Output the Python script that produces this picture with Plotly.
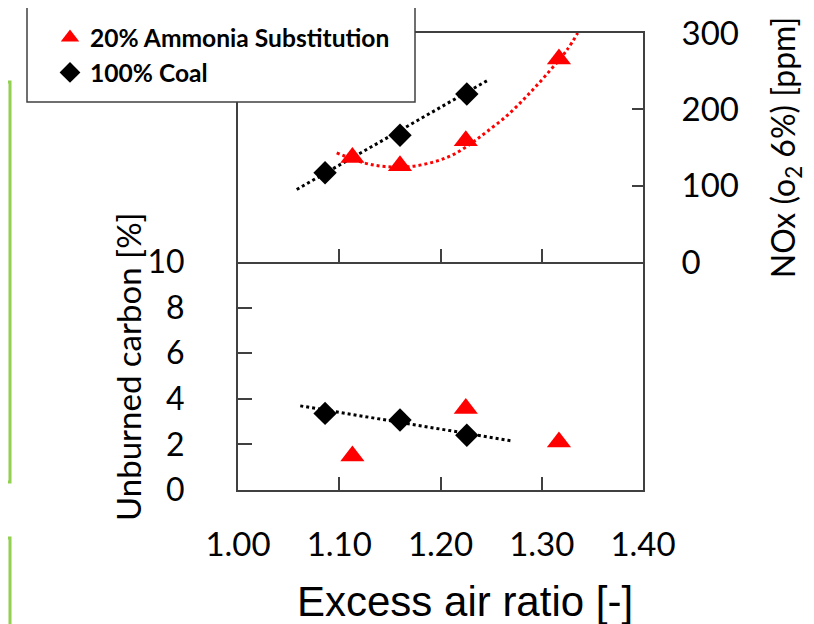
import plotly.graph_objects as go

# ---------------- data ----------------
excess_air_coal = [1.086, 1.160, 1.226]
nox_coal = [117, 166, 220]
unburned_coal = [3.36, 3.07, 2.40]

excess_air_nh3 = [1.113, 1.160, 1.225, 1.317]
nox_nh3 = [137, 126, 159, 266]
unburned_nh3 = [1.49, None, 3.58, 2.11]

# trend lines as drawn in the reference
coal_nox_trend_x = [1.058, 1.246]
coal_nox_trend_y = [95, 237.5]
nh3_nox_trend_x = [1.0975, 1.124, 1.145, 1.170, 1.193, 1.213, 1.232, 1.246,
                   1.265, 1.285, 1.305, 1.325, 1.3355]
nh3_nox_trend_y = [143, 130, 125, 125, 131, 141, 157, 171,
                   191, 217, 246, 278, 300]
coal_uc_trend_x = [1.0615, 1.271]
coal_uc_trend_y = [3.69, 2.15]

x_ticks = [1.00, 1.10, 1.20, 1.30, 1.40]
uc_ticks = [0, 2, 4, 6, 8, 10]
nox_ticks = [0, 100, 200, 300]

series_names = ["20% Ammonia Substitution", "100% Coal"]
x_title = "Excess air ratio [-]"
uc_title = "Unburned carbon [%]"
nox_title = "NOx (o<sub>2</sub> 6%) [ppm]"

# ---------------- layout geometry ----------------
W, H = 814, 624
OFF = 8  # page body margin of the browser
ML, MT = 238 - OFF, 33 - OFF
MR, MB = W - 643 + OFF, H - 490 + OFF
PW, PH = W - ML - MR, H - MT - MB
split = (490 - 262) / PH


def px_x(px):
    return (px - OFF - ML) / PW


def px_y(py):
    return (H - MB - (py - OFF)) / PH


RED = "#FF0000"
BLACK = "#000000"
FRAME = "#404040"
CAL = "Lato, 'Open Sans', sans-serif"
ARI = "'Liberation Sans', Arial, sans-serif"

fig = go.Figure()

# ---- top panel (NOx) ----
fig.add_trace(go.Scatter(x=nh3_nox_trend_x, y=nh3_nox_trend_y, mode="lines",
                         line=dict(color=RED, width=3, dash="dot", shape="spline"),
                         xaxis="x2", yaxis="y2", showlegend=False, hoverinfo="skip"))
fig.add_trace(go.Scatter(x=coal_nox_trend_x, y=coal_nox_trend_y, mode="lines",
                         line=dict(color=BLACK, width=3, dash="dot"),
                         xaxis="x2", yaxis="y2", showlegend=False, hoverinfo="skip"))
fig.add_trace(go.Scatter(x=excess_air_nh3, y=nox_nh3, mode="markers",
                         marker=dict(symbol="triangle-up", size=21, color=RED),
                         name=series_names[0],
                         xaxis="x2", yaxis="y2"))
fig.add_trace(go.Scatter(x=excess_air_coal, y=nox_coal, mode="markers",
                         marker=dict(symbol="diamond", size=18, color=BLACK),
                         name=series_names[1],
                         xaxis="x2", yaxis="y2"))

# ---- bottom panel (unburned carbon) ----
fig.add_trace(go.Scatter(x=coal_uc_trend_x, y=coal_uc_trend_y, mode="lines",
                         line=dict(color=BLACK, width=3, dash="dot"),
                         xaxis="x", yaxis="y", showlegend=False, hoverinfo="skip"))
fig.add_trace(go.Scatter(x=excess_air_nh3, y=unburned_nh3, mode="markers",
                         marker=dict(symbol="triangle-up", size=21, color=RED),
                         name=series_names[0], showlegend=False,
                         xaxis="x", yaxis="y"))
fig.add_trace(go.Scatter(x=excess_air_coal, y=unburned_coal, mode="markers",
                         marker=dict(symbol="diamond", size=18, color=BLACK),
                         name=series_names[1], showlegend=False,
                         xaxis="x", yaxis="y"))

axis_common = dict(showgrid=False, zeroline=False, showline=True, linecolor=FRAME,
                   linewidth=2, ticks="inside", tickcolor=FRAME, tickwidth=2)

fig.update_layout(
    width=W, height=H,
    margin=dict(l=ML, r=MR, t=MT, b=MB, autoexpand=False),
    paper_bgcolor="white", plot_bgcolor="white",
    xaxis=dict(**axis_common, mirror=False, domain=[0, 1], anchor="y",
               range=[1.0, 1.4], tickvals=x_ticks, tickformat=".2f", ticklen=13,
               tickfont=dict(family=CAL, size=33, color=BLACK),
               ticklabelstandoff=24),
    xaxis2=dict(**axis_common, mirror=True, domain=[0, 1], anchor="y2", matches="x",
                range=[1.0, 1.4], tickvals=x_ticks, ticklen=13, showticklabels=False),
    yaxis=dict(**axis_common, mirror=True, domain=[0, split], anchor="x",
               range=[0, 10], tickvals=uc_ticks, ticklen=14,
               tickfont=dict(family=CAL, size=32, color=BLACK),
               ticklabelstandoff=45),
    yaxis2=dict(**axis_common, mirror=True, domain=[split, 1], anchor="x2",
                side="right", range=[0, 300], tickvals=nox_ticks, ticklen=11,
                tickfont=dict(family=CAL, size=33, color=BLACK),
                ticklabelstandoff=30,
                title=dict(text=nox_title,
                           font=dict(family=CAL, size=32, color=BLACK), standoff=35)),
    legend=dict(x=px_x(50), y=px_y(15), xanchor="left", yanchor="top",
                bgcolor="rgba(0,0,0,0)", borderwidth=0, tracegroupgap=0,
                font=dict(family=CAL, size=24.6, color=BLACK, weight="bold")),
    showlegend=True,
)

# axis titles placed where the reference shows them
fig.add_annotation(text=x_title, xref="paper", yref="paper",
                   x=px_x(465), y=px_y(601), xanchor="center", yanchor="middle",
                   showarrow=False, font=dict(family=ARI, size=42, color=BLACK))
fig.add_annotation(text=uc_title, xref="paper", yref="paper", textangle=-90,
                   x=px_x(128), y=px_y(367), xanchor="center", yanchor="middle",
                   showarrow=False, font=dict(family=CAL, size=33, color=BLACK))

# legend frame (white box that covers the plot corner)
fig.add_shape(type="rect", xref="paper", yref="paper",
              x0=px_x(27), x1=px_x(415), y0=px_y(102), y1=px_y(7),
              fillcolor="white", line=dict(color=FRAME, width=1.5), layer="above")

# green frame fragments from the neighbouring figure on the left edge
GREEN = "#92D050"
fig.add_shape(type="rect", xref="paper", yref="paper",
              x0=px_x(-20), x1=px_x(10), y0=px_y(482), y1=px_y(82),
              line=dict(color=GREEN, width=3), fillcolor="rgba(0,0,0,0)", layer="above")
fig.add_shape(type="rect", xref="paper", yref="paper",
              x0=px_x(-20), x1=px_x(10), y0=px_y(660), y1=px_y(538),
              line=dict(color=GREEN, width=3), fillcolor="rgba(0,0,0,0)", layer="above")

fig.write_html("out.html")
